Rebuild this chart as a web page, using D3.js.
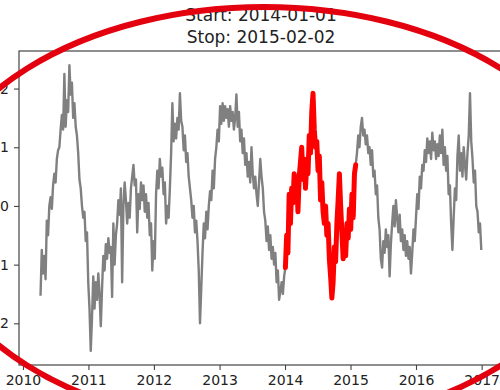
<!DOCTYPE html>
<html>
<head>
<meta charset="utf-8">
<script src="https://cdn.jsdelivr.net/npm/d3@7"></script>
<style>
  html, body { margin: 0; padding: 0; background: #fff; }
  svg { display: block; }
</style>
</head>
<body>
<svg id="chart" width="500" height="390"></svg>
<script>
// Weekly observations, first one on startDate
const startDate = "2010-04-09";
const stepDays = 7;
const values = [
  -1.53, -0.75, -1.15, -0.85, -1.25, -0.25, -0.5,
  0.0, 0.15, -0.05, 0.35, 0.55, 0.4, 0.8, 0.95, 1.0,
  1.3, 1.55, 1.3, 2.25, 1.35, 1.8, 1.6, 2.4, 1.9, 2.1, 1.5, 1.75, 1.35, 1.2, 0.9, 0.45,
  0.3, 0.0, -0.2, -0.1, -0.6, -0.45, -1.3, -1.75, -2.47, -1.9,
  -1.2, -1.75, -1.3, -1.6, -1.15, -1.5, -2.05, -1.4, -0.85, -1.1, -0.65, -0.9, -0.55, -0.8, -0.7, -1.55, -0.3, -1.0, -0.5, -0.3,
  0.1, -0.15, 0.3, -1.3, 0.0, 0.4, 0.1, -0.3, 0.05, -0.2, 0.3, 0.5, 0.7, 0.35,
  0.45, -0.45, 0.2, -0.05, 0.4, 0.1, 0.35, -0.1, 0.2, -0.2, 0.05, -0.5, -0.3, -1.1, -0.6, -0.9, 0.2, 0.6, 0.3, 0.8,
  0.5, 0.65, 0.2, 0.4, -0.3, 0.0, -0.2, 0.3, 0.9, 1.75, 1.1, 1.4, 1.15, 1.5, 1.3, 1.92, 1.45,
  1.35, 0.95, 1.2, 0.75, 0.9, 0.5, 0.3, 0.1, -0.2, 0.0, -0.45, -0.25, -0.6, -1.1, -2.0, -1.4, -0.8, -0.3,
  -0.55, -0.1, -0.4, 0.0, 0.25, 0.1, 0.6, 0.3, 0.8, 1.0, 1.3, 1.1, 1.7, 1.4,
  1.75, 1.45, 1.7, 1.5, 1.65, 1.35, 1.7, 1.45, 1.6, 1.3, 1.5, 1.9, 1.35, 1.6, 1.1, 1.3,
  0.9, 1.15, 0.7, 0.9, 0.5, 0.75, 0.4, 1.0, 0.55, 0.3, 0.5, 0.2, 0.0, 0.4, 0.8, 0.5, 0.3,
  -0.1, -0.25, -0.6, -0.35, -0.75, -0.5, -0.9, -0.7, -1.0, -0.8, -1.3, -1.1, -1.6, -1.45, -1.3, -1.5, -1.2,
  -1.05, -0.5, -0.8, 0.2, -0.3, 0.3, 0.05, 0.55, 0.2, 0.45, -0.1, 0.5, 0.75, 1.0, 0.45, 0.8,
  0.3, 0.7, 0.55, 1.2, 0.9, 1.6, 1.92, 1.3, 1.0, 1.1, 0.6, 0.85, 0.1, 0.4, -0.1, -0.3,
  0.0, -0.5, -0.3, -0.9, -1.2, -1.57, -1.3, -0.7, -0.95, -0.3, 0.1, 0.55, 0.0, -0.45, -0.9, -0.6,
  -0.85, -0.3, -0.55, -0.05, -0.4, 0.2, -0.2, 0.55, 0.7,
  0.9, 1.2, 1.0, 1.35, 1.5, 1.2, 1.3, 1.05, 1.2, 0.9, 1.0,
  0.7, 0.95, 0.5, 0.6, 0.2, 0.35, -0.2, -0.4, -0.9, -1.05, -0.6, -0.8, -0.4, -0.7, -0.5, -1.2, -0.65, -0.3,
  0.0, -0.35, 0.1, -0.2, -0.45, -0.15, -0.6, -0.4, -0.75, -0.5, -0.85, -0.6, -0.9, -0.7, -1.15, -0.8, -0.4, -0.6,
  -0.2, 0.2, -0.05, 0.5, 0.3, 0.7, 0.6, 0.95, 0.75, 1.15, 0.9, 1.1, 0.8, 1.25, 0.95, 1.1, 0.8, 1.05, 0.85, 1.2, 0.9, 1.3, 0.7, 1.0,
  0.6, 0.85, 0.2, 0.35, -0.3, -0.75, -0.2, 0.3, 0.1, 0.85, 1.2, 0.6, 0.9, 0.5, 1.0, 0.7, 0.45, 0.9, 1.2, 1.92, 1.1, 0.8, 0.4, 0.6, 0.0, -0.1, -0.45, -0.3, -0.75
];

// Highlighted window
const highlightStart = "2014-01-01";
const highlightStop = "2015-02-02";
const titleLines = ["Start: " + highlightStart, "Stop: " + highlightStop];

// Axis ticks
const xTickYears = ["2010", "2011", "2012", "2013", "2014", "2015", "2016", "2017"];
const yTickValues = [-2, -1, 0, 1, 2];

const parse = d3.utcParse("%Y-%m-%d");
const parseYear = d3.utcParse("%Y");
const t0 = parse(startDate);
const series = values.map((v, i) => ({ date: d3.utcDay.offset(t0, i * stepDays), value: v }));
const hiStart = parse(highlightStart), hiStop = parse(highlightStop);
const highlighted = series.filter(d => d.date >= hiStart && d.date <= hiStop);

const plot = { left: 19, right: 503, top: 51, bottom: 365 };

const x = d3.scaleUtc()
  .domain([parse("2009-12-10"), parse("2017-04-30")])
  .range([plot.left, plot.right]);
const y = d3.scaleLinear()
  .domain([-2.71, 2.64])
  .range([plot.bottom, plot.top]);

const svg = d3.select("#chart");
const font = "DejaVu Sans, sans-serif";

// Data lines
const line = d3.line().x(d => x(d.date)).y(d => y(d.value));
svg.append("path")
  .datum(series)
  .attr("d", line)
  .attr("fill", "none")
  .attr("stroke", "#808080")
  .attr("stroke-width", 2.4)
  .attr("stroke-linejoin", "round");
svg.append("path")
  .datum(highlighted)
  .attr("d", line)
  .attr("fill", "none")
  .attr("stroke", "#ff0000")
  .attr("stroke-width", 5)
  .attr("stroke-linejoin", "round")
  .attr("stroke-linecap", "round");

// Spines
svg.append("rect")
  .attr("x", plot.left).attr("y", plot.top)
  .attr("width", plot.right - plot.left).attr("height", plot.bottom - plot.top)
  .attr("fill", "none").attr("stroke", "#444").attr("stroke-width", 1.2);

// Axes
const xAxis = d3.axisBottom(x)
  .tickValues(xTickYears.map(parseYear))
  .tickFormat(d3.utcFormat("%Y"))
  .tickSize(5).tickPadding(5.5);
const gx = svg.append("g").attr("transform", `translate(0,${plot.bottom})`).call(xAxis);

const yAxis = d3.axisLeft(y)
  .tickValues(yTickValues)
  .tickFormat(d => d < 0 ? "\u2212" + Math.abs(d) : String(d))
  .tickSize(5).tickPadding(5);
const gy = svg.append("g").attr("transform", `translate(${plot.left},0)`).call(yAxis);

[gx, gy].forEach(g => {
  g.select(".domain").remove();
  g.selectAll(".tick line").attr("stroke", "#444").attr("stroke-width", 1.1);
  g.selectAll(".tick text").attr("fill", "#222").style("font-family", font).style("font-size", "14px");
});

// Title
const cx = (plot.left + plot.right) / 2;
svg.append("g").selectAll("text")
  .data(titleLines)
  .join("text")
  .attr("x", cx)
  .attr("y", (d, i) => 21 + i * 22)
  .attr("text-anchor", "middle")
  .attr("fill", "#222")
  .style("font-family", font)
  .style("font-size", "17px")
  .text(d => d);

// Red ring drawn over the figure
svg.append("ellipse")
  .attr("cx", 264).attr("cy", 217)
  .attr("rx", 335).attr("ry", 210)
  .attr("fill", "none")
  .attr("stroke", "#e3000f")
  .attr("stroke-width", 6);
</script>
</body>
</html>
